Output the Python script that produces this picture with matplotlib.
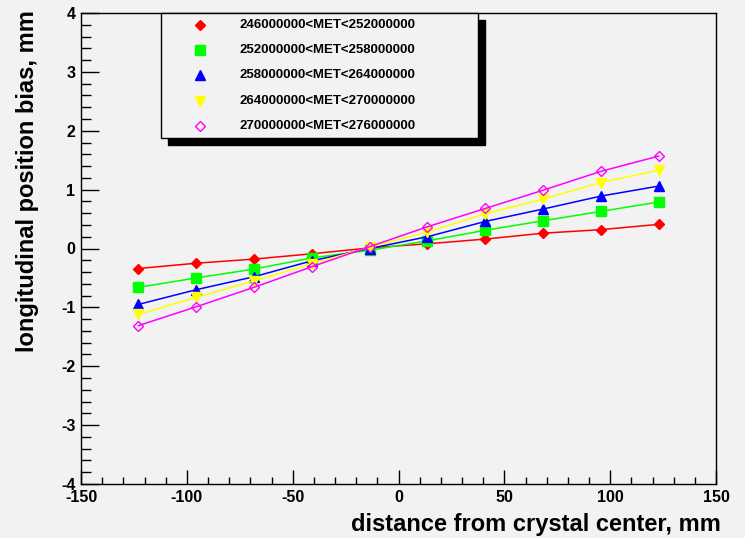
import matplotlib.pyplot as plt
from matplotlib.patches import Rectangle
from matplotlib.lines import Line2D
from matplotlib.ticker import MultipleLocator

plt.rcParams['font.family'] = ['Liberation Sans', 'DejaVu Sans']
plt.rcParams['font.weight'] = 'bold'
plt.rcParams['axes.unicode_minus'] = False

# crystal segment centres, mm
dist = [-122.9, -95.6, -68.3, -41.0, -13.7, 13.7, 41.0, 68.3, 95.6, 122.9]

bias_246 = [-0.34, -0.25, -0.18, -0.09, 0.01, 0.08, 0.16, 0.26, 0.32, 0.41]
bias_252 = [-0.66, -0.50, -0.35, -0.16, -0.03, 0.13, 0.31, 0.47, 0.63, 0.79]
bias_258 = [-0.95, -0.70, -0.48, -0.21, 0.00, 0.20, 0.46, 0.67, 0.89, 1.06]
bias_264 = [-1.12, -0.83, -0.55, -0.26, 0.02, 0.28, 0.59, 0.84, 1.12, 1.33]
bias_270 = [-1.31, -0.99, -0.66, -0.31, 0.03, 0.37, 0.68, 0.99, 1.31, 1.57]

labels = ["246000000<MET<252000000", "252000000<MET<258000000",
          "258000000<MET<264000000", "264000000<MET<270000000",
          "270000000<MET<276000000"]
series = [bias_246, bias_252, bias_258, bias_264, bias_270]
colors = ["#ff0000", "#00ff00", "#0000ff", "#ffff00", "#ff00ff"]
markers = [dict(marker="D", ms=5.5),
           dict(marker="s", ms=6.5),
           dict(marker="^", ms=7.5),
           dict(marker="v", ms=7.5),
           dict(marker="D", ms=5, mfc="none", mew=1.0)]

W, H = 745, 538
bg = "#f2f2f2"
fig = plt.figure(figsize=(W / 100, H / 100), dpi=100, facecolor=bg)
ax = fig.add_axes([81 / W, 1 - 484 / H, 635 / W, 471 / H], facecolor=bg)

for y, c, m in zip(series, colors, markers):
    style = dict(m)
    ax.plot(dist, y, color=c, lw=1.1, mec=c, mfc=style.pop("mfc", c), **style)

ax.set_xlim(-150, 150)
ax.set_ylim(-4, 4)
ax.xaxis.set_major_locator(MultipleLocator(50))
ax.xaxis.set_minor_locator(MultipleLocator(10))
ax.yaxis.set_major_locator(MultipleLocator(1))
ax.yaxis.set_minor_locator(MultipleLocator(0.2))
ax.tick_params(which="both", direction="in", top=False, right=False,
               width=1.0, labelsize=11.5, pad=4)
ax.tick_params(axis="x", which="major", length=10)
ax.tick_params(axis="x", which="minor", length=5)
ax.tick_params(axis="y", which="major", length=13)
ax.tick_params(axis="y", which="minor", length=7)
for s in ax.spines.values():
    s.set_linewidth(1.0)

fig.text(721 / W, 1 - 525 / H, "distance from crystal center, mm",
         ha="right", va="center", fontsize=17, fontweight="bold")
fig.text(28 / W, 1 - 10 / H, "longitudinal position bias, mm",
         ha="center", va="top", rotation=90, fontsize=17, fontweight="bold")

# legend box with drop shadow
bx0, bx1, by0, by1 = 161, 478, 13, 138
fig.patches.append(Rectangle(((bx0 + 7) / W, 1 - (by1 + 7) / H),
                             (bx1 - bx0) / W, (by1 - by0) / H,
                             transform=fig.transFigure, facecolor="black",
                             edgecolor="black", zorder=5))
fig.patches.append(Rectangle((bx0 / W, 1 - by1 / H),
                             (bx1 - bx0) / W, (by1 - by0) / H,
                             transform=fig.transFigure, facecolor=bg,
                             edgecolor="black", lw=1.0, zorder=6))
for i, (lab, c, m) in enumerate(zip(labels, colors, markers)):
    yy = 1 - (25 + 25.2 * i) / H
    style = dict(m)
    fc = style.pop("mfc", c)
    fig.lines.append(Line2D([200 / W], [yy], transform=fig.transFigure,
                            color=c, mec=c, mfc=fc, zorder=7, **style))
    fig.text(239 / W, yy, lab, ha="left", va="center", fontsize=9.5,
             fontweight="bold", zorder=7)

fig.savefig("out.png", dpi=100, facecolor=bg)
